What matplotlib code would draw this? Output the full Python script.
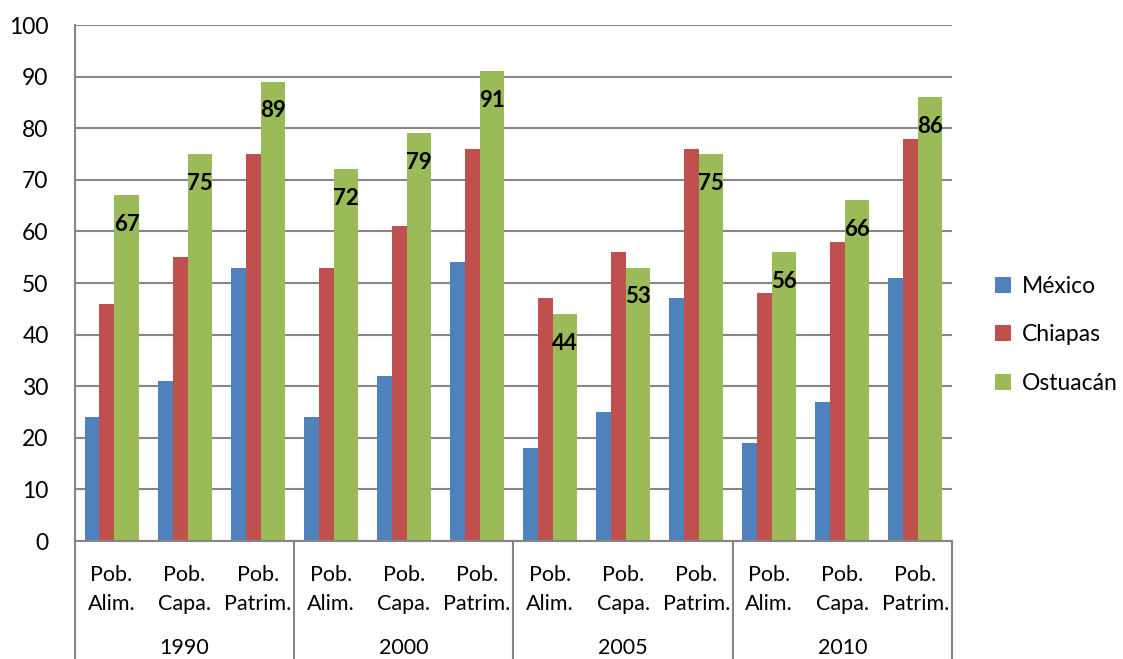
import matplotlib.pyplot as plt
import numpy as np

plt.rcParams['font.family'] = ['Lato', 'DejaVu Sans']

years = ['1990', '2000', '2005', '2010']
cats = ['Pob.\nAlim.', 'Pob.\nCapa.', 'Pob.\nPatrim.'] * 4
mexico = [24, 31, 53, 24, 32, 54, 18, 25, 47, 19, 27, 51]
chiapas = [46, 55, 75, 53, 61, 76, 47, 56, 76, 48, 58, 78]
ostuacan = [67, 75, 89, 72, 79, 91, 44, 53, 75, 56, 66, 86]

blue = '#4F81BD'
red = '#C0504D'
green = '#9BBB59'
gray = '#868686'

fig = plt.figure(figsize=(11.23, 6.59), dpi=100)
ax = fig.add_axes([75/1123, 118/659, 877/1123, 516/659])

x = np.arange(len(cats))
wb = 0.205   # blue / red width
wg = 0.33    # green width
start = x - (2*wb + wg) / 2
ax.bar(start + wb/2, mexico, wb, color=blue, label='México', zorder=3)
ax.bar(start + 1.5*wb, chiapas, wb, color=red, label='Chiapas', zorder=3)
bars = ax.bar(start + 2*wb + wg/2, ostuacan, wg, color=green, label='Ostuacán', zorder=3)

for b, v in zip(bars, ostuacan):
    ax.annotate(str(v), (b.get_x() + b.get_width()/2, v), xytext=(0, -21),
                textcoords='offset points', ha='center', va='center',
                fontsize=16, fontweight='bold', zorder=4)

ax.set_xlim(-0.5, len(cats) - 0.5)
ax.set_ylim(0, 100)
ax.set_yticks(range(0, 101, 10))
ax.tick_params(axis='y', length=0, pad=19, labelsize=16.5)
ax.set_xticks([])
ax.grid(axis='y', color=gray, linewidth=1.5, zorder=0)
for s in ['top', 'right', 'bottom']:
    ax.spines[s].set_visible(False)
ax.spines['left'].set_color(gray)
ax.spines['left'].set_linewidth(1.5)
ax.axhline(0, color=gray, linewidth=1.5, zorder=5, clip_on=False)

# two-level category axis
tr = ax.get_xaxis_transform()
for i, c in enumerate(cats):
    ax.text(i, -0.046, c, transform=tr, ha='center', va='top',
            fontsize=15.5, linespacing=1.55)
for g, yr in enumerate(years):
    ax.text(g*3 + 1, -0.208, yr, transform=tr, ha='center', va='center', fontsize=15.5)
for g in range(5):
    ax.plot([g*3 - 0.5, g*3 - 0.5], [0, -0.235], transform=tr, color=gray,
            linewidth=1.5, clip_on=False)

leg = ax.legend(loc='center left', bbox_to_anchor=(1.025, 0.40), frameon=False,
                fontsize=16.5, handlelength=0.7, handleheight=0.7,
                handletextpad=0.5, labelspacing=1.2)

fig.savefig('out.png', dpi=100)
